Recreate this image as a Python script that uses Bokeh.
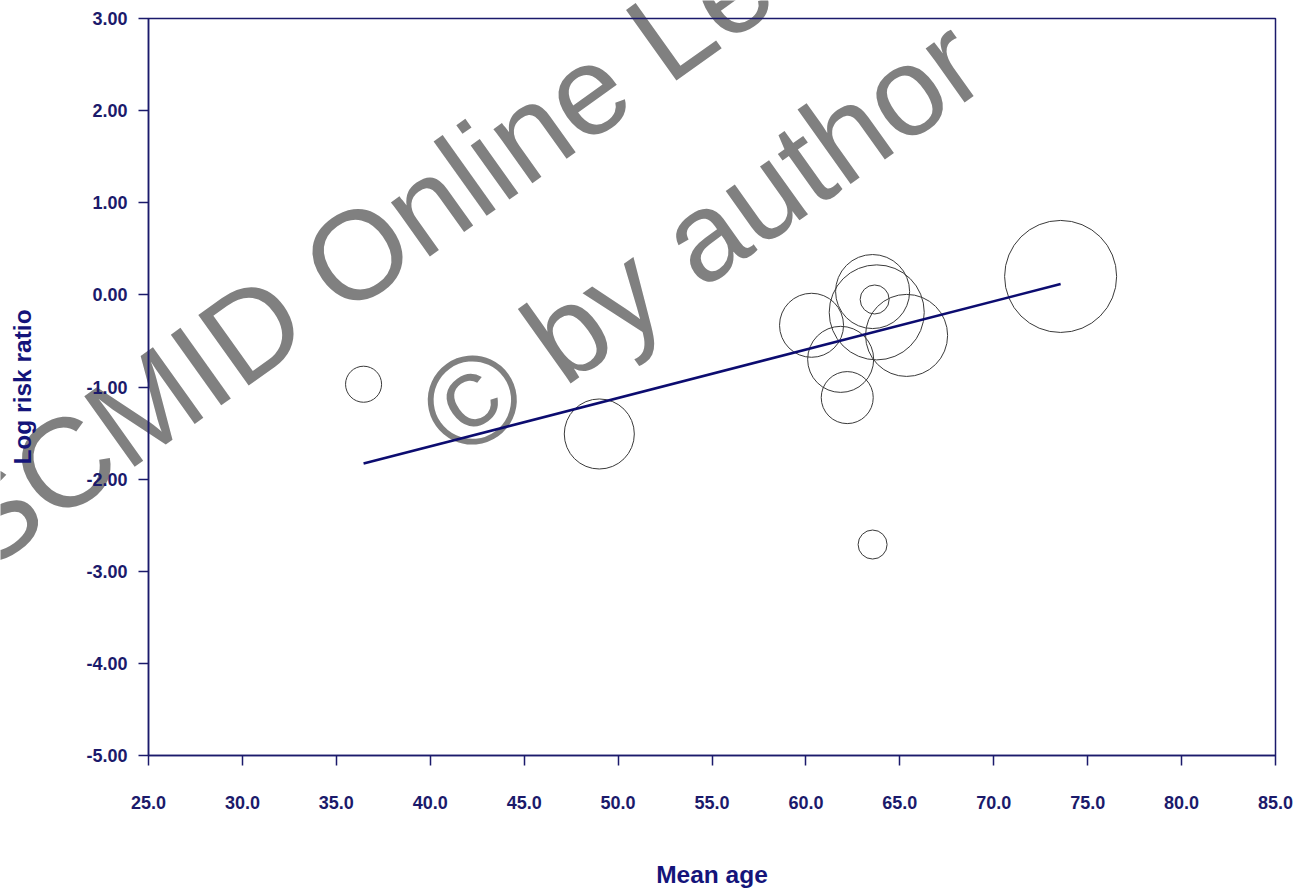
import numpy as np
from bokeh.plotting import figure
from bokeh.models import (Range1d, FixedTicker, Label, ColumnDataSource, LinearAxis,
                          BoxAnnotation)
from bokeh.embed import file_html
from bokeh.resources import INLINE

# Study-level data: mean age of participants, log risk ratio, relative weight (%)
mean_age = [36.45, 49.0, 60.3, 61.85, 62.2, 63.55, 63.77, 63.66, 65.36, 63.55, 73.56]
log_rr = [-0.97, -1.51, -0.33, -0.70, -1.115, 0.036, -0.19, -0.05, -0.44, -2.71, 0.20]
weight = [2.66, 10.04, 8.39, 8.93, 5.54, 11.22, 18.49, 1.72, 13.78, 1.72, 25.70]

# Meta-regression of log risk ratio on mean age
slope = 0.0525
intercept = -3.744

x_ticks = [25, 30, 35, 40, 45, 50, 55, 60, 65, 70, 75, 80, 85]
x_tick_labels = ["25.0", "30.0", "35.0", "40.0", "45.0", "50.0", "55.0",
                 "60.0", "65.0", "70.0", "75.0", "80.0", "85.0"]
y_ticks = [-5, -4, -3, -2, -1, 0, 1, 2, 3]
y_tick_labels = ["-5.00", "-4.00", "-3.00", "-2.00", "-1.00", "0.00", "1.00", "2.00", "3.00"]

NAVY = "#1b1a6b"
TITLE = "#14147a"
FONT = "Liberation Sans"

# Canvas geometry: the plotting box sits inside margins of the page
W, H = 1297, 890
M_LEFT, M_RIGHT, M_TOP, M_BOTTOM = 148, 22, 18, 135
x_lo, x_hi = x_ticks[0], x_ticks[-1]
y_lo, y_hi = y_ticks[0], y_ticks[-1]
sx_per = (W - M_LEFT - M_RIGHT) / (x_hi - x_lo)
sy_per = (H - M_TOP - M_BOTTOM) / (y_hi - y_lo)

# The frame covers the whole page so the watermark can run across the margins
p = figure(
    frame_width=W, frame_height=H, min_border=0,
    x_range=Range1d(x_lo - M_LEFT / sx_per, x_hi + M_RIGHT / sx_per),
    y_range=Range1d(y_lo - M_BOTTOM / sy_per, y_hi + M_TOP / sy_per),
    x_axis_location=None, y_axis_location=None,
    output_backend="svg", toolbar_location=None,
    background_fill_color="white", border_fill_color="white",
)
p.grid.visible = False
p.outline_line_color = None

# Watermark
for txt, sx, sy in [("ESCMID Online Lecture Library", 608, 75), ("\u00a9 by author", 700, 237)]:
    p.add_layout(Label(x=sx, y=H - sy, x_units="screen", y_units="screen", text=txt,
                       angle=35.5, angle_units="deg", text_align="center",
                       text_baseline="middle", text_font=FONT, text_font_size="126px",
                       text_color="#808080", level="underlay"))

# Plot box
p.add_layout(BoxAnnotation(left=x_lo, right=x_hi, bottom=y_lo, top=y_hi,
                           fill_alpha=0, line_color=NAVY, line_alpha=1.0,
                           line_width=1.5, level="overlay"))

# Bubbles: area proportional to study weight
size = 22.1 * np.sqrt(np.array(weight))
src = ColumnDataSource(dict(x=mean_age, y=log_rr, s=size))
p.scatter("x", "y", size="s", source=src, fill_alpha=0, line_color="#3a3a3a", line_width=1)

# Regression line across the observed age range
xr = np.array([min(mean_age), max(mean_age)])
p.line(xr, intercept + slope * xr, line_color="#0c0c70", line_width=2.6)

xaxis = LinearAxis(fixed_location=y_lo, bounds=(x_lo, x_hi))
yaxis = LinearAxis(fixed_location=x_lo, bounds=(y_lo, y_hi))
p.add_layout(xaxis, "below")
p.add_layout(yaxis, "left")

for ax in (xaxis, yaxis):
    ax.level = "overlay"
    ax.axis_line_color = NAVY
    ax.axis_line_width = 1.5
    ax.major_tick_line_color = NAVY
    ax.major_tick_line_width = 1.5
    ax.major_tick_in = 0
    ax.major_tick_out = 10
    ax.minor_tick_line_color = None
    ax.major_label_text_color = NAVY
    ax.major_label_text_font = FONT
    ax.major_label_text_font_style = "bold"
    ax.major_label_text_font_size = "18px"

xaxis.ticker = FixedTicker(ticks=x_ticks)
xaxis.major_label_overrides = dict(zip(x_ticks, x_tick_labels))
xaxis.major_label_standoff = 30
yaxis.ticker = FixedTicker(ticks=y_ticks)
yaxis.major_label_overrides = dict(zip(y_ticks, y_tick_labels))
yaxis.major_label_standoff = 11

# Axis titles
title_style = dict(text_font=FONT, text_font_style="bold", text_font_size="24.5px",
                   text_color=TITLE, text_align="center", text_baseline="alphabetic",
                   level="overlay")
p.add_layout(Label(x=(x_lo + x_hi) / 2, y=16, y_units="screen", text="Mean age", **title_style))
p.add_layout(Label(x=22, y=(y_lo + y_hi) / 2, x_units="screen", text="Log risk ratio",
                   angle=90, angle_units="deg", **title_style))

open("out.html", "w").write(file_html(p, INLINE))
